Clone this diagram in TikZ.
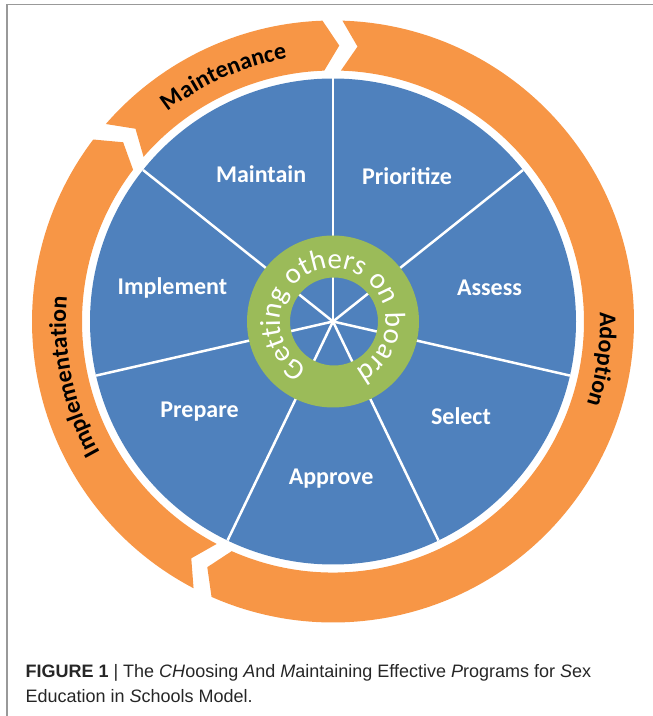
\documentclass[tikz,border=0pt]{standalone}
\usepackage{fontspec}
\usetikzlibrary{decorations.text}
\newfontfamily\calib{Carlito}
\newfontfamily\capfont{Liberation Sans}
\definecolor{phaseorange}{HTML}{F79646}
\definecolor{stepblue}{HTML}{4F81BD}
\definecolor{boardgreen}{HTML}{9BBB59}

\begin{document}
\begin{tikzpicture}[x=1pt, y=1pt,
      phase/.style={fill=phaseorange},
      spoke/.style={draw=white, line width=2.5pt},
      steplabel/.style={text=white, font=\calib\bfseries\fontsize{24}{24}\selectfont},
      frameline/.style={draw=black!40, line width=1.5pt},
      caption/.style={text=black!85, align=left, font=\capfont\fontsize{18}{25}\selectfont}]

  \useasboundingbox (0,0) rectangle (653,716);
  \draw[frameline] (7,0) -- (7,711.5) -- (653,711.5);

  \begin{scope}[shift={(333,394.5)}]
    % orange phase arrows
    \foreach \t/\h in {88.2/-113.8, 242.4/142.8, 139/92}
      \fill[phase] (\t:301pt) arc[start angle=\t, end angle=\h, radius=301pt]
        -- ({\h-3.3}:276pt) -- (\h:251pt)
        arc[start angle=\h, end angle=\t, radius=251pt]
        -- ({\t-3.3}:276pt) -- cycle;

    % phase names
    \path[decorate, decoration={text along path, text align=center,
        text={|\calib\bfseries\fontsize{24}{24}\selectfont|Maintenance}}]
      (152:267pt) arc[start angle=152, end angle=76, radius=267pt];
    \path[decorate, decoration={text along path, text align=center,
        text={|\calib\bfseries\fontsize{24}{24}\selectfont|Implementation}}]
      (240:267pt) arc[start angle=240, end angle=144, radius=267pt];
    \path[decorate, decoration={text along path, text align=center,
        text={|\calib\bfseries\fontsize{24}{24}\selectfont|Adoption}}]
      (40:267pt) arc[start angle=40, end angle=-56, radius=267pt];

    % blue wheel
    \fill[stepblue] (0,0) circle[radius=243pt];
    \foreach \i in {0,...,6}
      \draw[spoke] (0,0) -- ({90-\i*360/7}:243pt);

    \foreach \a/\r/\t/\n in {116/164/Maintain/maintain, 63/163/Prioritize/prioritize,
        12/160/Assess/assess, -36.4/159/Select/select, -90.7/157/Approve/approve,
        -146/161/Prepare/prepare, 168.3/164/Implement/implement}
      \node[steplabel] (\n) at (\a:\r pt) {\t};

    % green ring
    \fill[boardgreen, even odd rule] (0,0) circle[radius=86pt] (1,0) circle[radius=44pt];
    \path[decorate, decoration={text along path, text align=center,
        text={|\calib\fontsize{29}{29}\selectfont\color{white}|Getting others on board}}]
      (240:53pt) arc[start angle=240, end angle=-64, radius=53pt];
  \end{scope}

  \node[caption, anchor=base west] (figcaption) at (22,13)
    {\textbf{FIGURE 1} | The \textit{CH}oosing \textit{A}nd \textit{M}aintaining Effective \textit{P}rograms for \textit{S}ex\\
     Education in \textit{S}chools Model.};
\end{tikzpicture}
\end{document}
